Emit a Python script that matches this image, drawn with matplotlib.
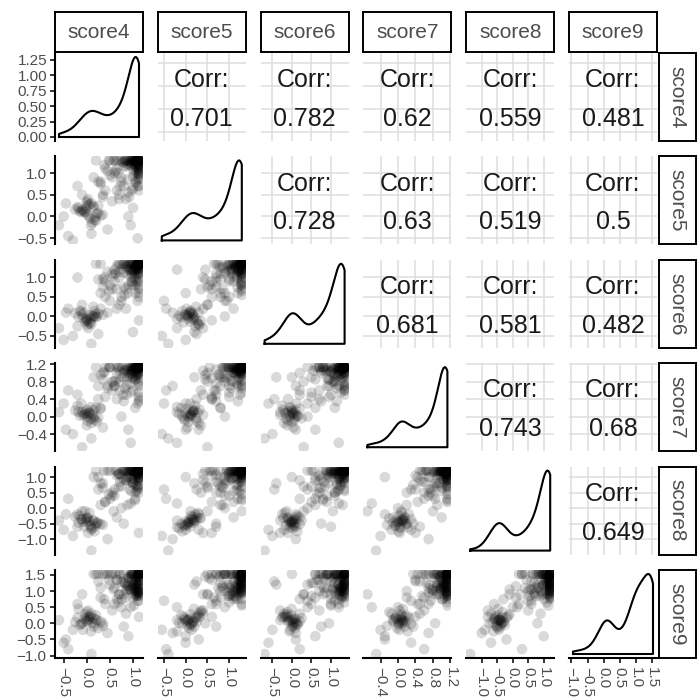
import matplotlib.pyplot as plt
from matplotlib.ticker import MultipleLocator, FormatStrFormatter
import numpy as np

plt.rcParams['font.family'] = ['Liberation Sans', 'DejaVu Sans']

names = ['score4', 'score5', 'score6', 'score7', 'score8', 'score9']

# observations in blocks: high (40), low (30), spread (30), upper-mid (40), ceiling (30)
s4 = [1.13, 1.10, 1.05, 0.98, 1.13, 1.08, 0.95, 1.02, 1.12, 0.88,
      1.06, 1.13, 0.92, 1.00, 1.10, 0.85, 1.04, 1.13, 0.97, 1.09,
      0.80, 1.11, 1.03, 0.93, 1.13, 0.76, 1.07, 0.99, 1.12, 0.70,
      1.01, 1.13, 0.90, 1.06, 0.83, 1.10, 0.96, 0.65, 1.08, 1.13,
      0.00, -0.10, 0.08, 0.15, -0.05, 0.02, 0.20, -0.15, 0.10, 0.05,
      -0.02, 0.25, -0.20, 0.12, 0.00, 0.30, -0.08, 0.06, 0.18, -0.12,
      0.03, 0.22, -0.25, 0.09, 0.14, -0.04, 0.35, 0.01, 0.17, -0.18,
      -0.60, -0.45, -0.30, 0.40, 0.55, 0.70, 0.30, 0.60, 0.85, 1.10,
      1.00, 0.20, 0.50, -0.20, 0.90, 1.13, 0.10, -0.10, 0.75, 0.45,
      -0.50, 0.35, 1.05, 0.65, -0.40, 0.95, 0.25, 0.80, 1.13, 0.15,
      0.55, 0.85, 1.00, 0.40, 0.75, 1.13, 0.60, 0.90, 0.30, 1.05,
      0.70, 0.95, 0.50, 1.13, 0.80, 0.65, 1.10, 0.45, 0.88, 1.02,
      0.35, 0.78, 1.13, 0.58, 0.92, 1.08, 0.25, 0.82, 1.13, 0.68,
      0.98, 0.48, 1.13, 0.72, 1.04, 0.62, 0.87, 1.13, 0.38, 0.96,
      1.13, 1.13, 1.10, 1.13, 1.05, 1.13, 1.13, 1.08, 1.13, 1.00,
      1.13, 1.13, 1.11, 1.13, 0.98, 1.13, 1.13, 1.06, 1.13, 1.13,
      1.09, 1.13, 1.13, 1.02, 1.13, 1.13, 1.12, 1.13, 1.13, 1.07]
s5 = [1.29, 1.22, 1.15, 1.29, 1.05, 1.25, 1.18, 1.29, 0.98, 1.20,
      1.29, 1.10, 1.26, 0.92, 1.29, 1.15, 1.22, 1.08, 1.29, 0.85,
      1.24, 1.29, 1.00, 1.18, 1.12, 1.29, 0.78, 1.27, 1.20, 1.29,
      1.06, 0.95, 1.29, 1.16, 1.29, 0.70, 1.23, 1.29, 1.02, 1.19,
      0.05, 0.15, -0.05, 0.20, 0.10, 0.25, -0.10, 0.12, 0.30, 0.00,
      0.18, 0.08, 0.22, -0.15, 0.35, 0.02, 0.14, 0.28, -0.02, 0.10,
      0.40, 0.06, 0.16, -0.20, 0.24, 0.11, 0.04, 0.32, -0.08, 0.19,
      -0.20, 0.30, -0.55, 0.60, 0.35, 0.50, 0.80, 1.00, 0.40, -0.50,
      0.20, 1.29, 1.29, 0.70, 0.00, 0.60, -0.40, 0.50, 0.90, -0.30,
      0.00, 0.45, 0.80, 1.10, -0.45, -0.20, 0.25, 0.70, 1.00, 0.90,
      0.90, 1.29, 0.65, 1.10, 0.80, 1.00, 1.29, 0.55, 0.75, 1.20,
      0.40, 1.29, 0.95, 0.70, 1.15, 0.60, 1.29, 1.05, 0.85, 1.29,
      0.50, 1.25, 0.90, 1.29, 0.45, 1.10, 0.80, 1.29, 1.20, 1.00,
      0.60, 1.29, 1.15, 0.70, 1.29, 1.05, 1.29, 0.85, 1.18, 1.29,
      1.29, 1.29, 1.29, 1.25, 1.29, 1.29, 1.20, 1.29, 1.29, 1.29,
      1.15, 1.29, 1.29, 1.29, 1.22, 1.29, 1.29, 1.29, 1.08, 1.29,
      1.29, 1.29, 1.18, 1.29, 1.29, 1.29, 1.29, 1.24, 1.29, 1.29]
s6 = [1.35, 1.20, 1.28, 1.10, 1.22, 1.35, 1.05, 1.18, 1.30, 1.25,
      0.95, 1.22, 1.35, 1.15, 1.08, 1.28, 1.20, 1.35, 0.88, 1.24,
      1.12, 1.30, 1.18, 1.35, 1.00, 1.22, 1.26, 0.82, 1.35, 1.14,
      1.20, 1.32, 1.06, 1.25, 1.35, 0.90, 1.17, 1.28, 1.35, 0.75,
      -0.05, 0.05, -0.15, 0.00, 0.10, -0.10, -0.02, 0.15, -0.20, 0.03,
      -0.08, 0.08, -0.25, 0.02, -0.12, 0.20, -0.04, -0.18, 0.06, 0.12,
      -0.30, 0.00, 0.09, -0.06, 0.25, -0.14, 0.04, -0.22, 0.14, -0.01,
      -0.30, 0.10, -0.50, 0.50, 0.70, 0.30, 0.60, 0.90, 0.20, 0.40,
      -0.40, 1.35, 0.80, 1.00, 0.60, -0.10, -0.70, 0.30, 0.40, 0.10,
      -0.60, 0.95, 1.10, 0.20, 0.20, 1.20, -0.45, 0.75, 0.50, 0.00,
      1.10, 0.70, 1.35, 0.90, 0.50, 0.95, 1.20, 0.80, 1.35, 0.60,
      1.00, 1.25, 0.40, 1.10, 1.35, 0.70, 0.85, 1.15, 1.30, 1.00,
      0.75, 1.35, 0.60, 1.05, 1.20, 1.35, 0.95, 0.55, 1.15, 1.35,
      0.90, 0.65, 1.25, 1.35, 0.80, 1.10, 1.35, 0.70, 1.00, 1.35,
      1.35, 1.30, 1.35, 1.35, 1.28, 1.35, 1.35, 1.22, 1.35, 1.35,
      1.35, 1.18, 1.35, 1.35, 1.35, 1.35, 1.10, 1.35, 1.35, 1.35,
      1.30, 1.35, 1.35, 1.35, 1.25, 1.35, 1.35, 1.35, 1.35, 1.33]
s7 = [1.13, 1.05, 1.10, 0.98, 1.13, 1.02, 1.08, 0.92, 1.13, 1.06,
      0.85, 1.11, 1.00, 1.13, 0.95, 1.07, 1.13, 0.80, 1.04, 1.12,
      0.90, 1.13, 1.09, 0.75, 1.01, 1.13, 0.96, 1.06, 0.70, 1.13,
      1.03, 0.88, 1.10, 1.13, 0.65, 1.08, 0.99, 1.13, 0.93, 1.05,
      0.00, 0.10, -0.05, 0.15, 0.05, -0.10, 0.20, 0.02, -0.15, 0.08,
      0.12, -0.02, 0.25, 0.06, -0.20, 0.18, 0.03, 0.09, -0.08, 0.30,
      0.04, -0.12, 0.14, 0.22, -0.04, 0.07, -0.25, 0.16, 0.01, 0.11,
      0.10, -0.30, -0.40, 0.45, 0.60, 0.80, 0.20, 0.70, 0.50, 0.30,
      0.90, 1.13, 1.13, 0.50, -0.30, 0.40, -0.50, -0.70, 0.00, 0.70,
      0.30, 0.85, 0.20, 1.00, 0.60, -0.60, 0.40, 0.35, 0.55, 0.90,
      0.80, 1.13, 0.60, 1.13, 0.90, 0.45, 0.70, 1.13, 0.95, 0.85,
      1.05, 0.55, 1.13, 0.75, 1.00, 0.40, 1.13, 0.65, 0.90, 1.13,
      1.00, 0.50, 1.13, 0.80, 0.95, 1.13, 0.70, 1.05, 0.35, 1.13,
      0.88, 1.13, 0.98, 0.60, 1.13, 0.82, 0.72, 1.13, 1.02, 1.13,
      1.13, 1.13, 1.10, 1.13, 1.13, 1.08, 1.13, 1.13, 1.13, 1.05,
      1.13, 1.13, 0.98, 1.13, 1.13, 1.13, 1.13, 1.13, 1.13, 1.02,
      1.13, 1.13, 1.13, 1.13, 1.13, 1.10, 1.13, 1.13, 1.13, 1.13]
s8 = [1.21, 1.12, 1.05, 1.21, 0.95, 1.18, 1.21, 1.08, 0.88, 1.21,
      1.15, 1.00, 1.21, 0.80, 1.10, 1.21, 0.92, 1.17, 1.21, 0.70,
      1.21, 1.06, 1.14, 0.60, 1.21, 1.02, 1.19, 0.85, 1.21, 1.10,
      0.96, 1.21, 1.13, 0.75, 1.21, 1.08, 0.55, 1.21, 1.16, 0.98,
      -0.45, -0.35, -0.55, -0.40, -0.60, -0.30, -0.50, -0.25, -0.70, -0.42,
      -0.38, -0.48, -0.20, -0.65, -0.33, -0.52, -0.44, -0.15, -0.58, -0.36,
      -0.80, -0.46, -0.28, -0.62, -0.40, -0.10, -0.54, -0.32, -0.75, -0.47,
      -0.40, -0.20, -0.90, 0.20, 0.50, 0.70, 0.10, 0.40, 0.90, 0.60,
      0.80, 1.21, 0.30, -0.60, 1.00, -0.80, -1.37, -0.10, 0.00, -1.00,
      -0.70, 0.80, 0.50, -0.30, 0.30, 0.15, 0.60, -0.50, 1.21, 1.00,
      0.40, 0.90, 1.21, 0.20, 0.70, 1.00, 0.60, 1.21, 0.80, 0.30,
      1.10, 0.85, 1.21, 0.50, 0.95, 1.05, 0.70, 1.21, 0.10, 1.15,
      0.65, 1.21, 0.90, -0.10, 1.21, 0.55, 1.00, 1.21, 0.75, 1.10,
      1.21, 0.45, 1.21, 0.85, 0.25, 1.21, 1.00, 0.65, 1.21, 0.95,
      1.21, 1.21, 1.21, 1.18, 1.21, 1.21, 1.12, 1.21, 1.05, 1.21,
      1.21, 1.21, 1.21, 0.98, 1.21, 1.21, 1.21, 1.15, 1.21, 1.21,
      1.21, 1.08, 1.21, 1.21, 1.21, 1.21, 1.21, 1.14, 1.21, 1.21]
s9 = [1.53, 1.20, 1.00, 1.45, 0.90, 1.30, 1.10, 1.53, 0.85, 1.05,
      1.40, 0.95, 1.15, 1.53, 1.25, 0.80, 1.35, 1.00, 1.50, 1.10,
      0.90, 1.53, 1.20, 1.05, 1.30, 0.75, 1.45, 1.10, 0.95, 1.53,
      1.15, 1.00, 1.40, 0.85, 1.25, 1.53, 1.05, 1.35, 0.90, 1.20,
      0.10, 0.00, 0.20, -0.10, 0.15, 0.05, 0.25, -0.05, 0.30, 0.12,
      0.08, -0.15, 0.18, 0.02, 0.35, 0.06, -0.20, 0.22, 0.14, -0.02,
      0.40, 0.10, 0.04, -0.25, 0.16, 0.28, -0.08, 0.20, 0.00, 0.45,
      0.10, -0.50, -0.20, 0.60, 0.40, 0.90, 0.80, 1.10, 0.30, 0.70,
      1.20, 1.53, 1.53, 0.60, -0.40, 0.20, -0.95, 0.90, 0.50, -0.30,
      -0.60, 0.00, 1.00, 0.75, -0.80, 0.50, 1.30, -0.10, 0.85, 1.53,
      1.53, 1.00, 0.80, 1.53, 1.25, 1.53, 0.60, 1.40, 1.10, 1.53,
      0.90, 1.53, 1.20, 0.70, 1.53, 1.35, 0.95, 1.53, 1.15, 0.55,
      1.53, 1.30, 1.53, 1.05, 1.45, 0.85, 1.53, 1.25, 1.53, 0.65,
      1.53, 1.35, 1.10, 1.53, 0.90, 1.53, 1.20, 1.53, 0.75, 1.53,
      1.53, 1.45, 1.20, 1.53, 1.10, 1.40, 1.53, 1.00, 1.30, 1.53,
      1.15, 1.50, 1.05, 1.53, 1.35, 0.95, 1.53, 1.25, 1.45, 1.53,
      1.10, 1.40, 1.53, 1.20, 1.00, 1.53, 1.30, 1.45, 1.53, 1.15]

corr_labels = [
    ['0.701', '0.782', '0.62', '0.559', '0.481'],
    ['0.728', '0.63', '0.519', '0.5'],
    ['0.681', '0.581', '0.482'],
    ['0.743', '0.68'],
    ['0.649'],
]

axis_ticks = [
    [-0.5, 0.0, 0.5, 1.0],
    [-0.5, 0.0, 0.5, 1.0],
    [-0.5, 0.0, 0.5, 1.0],
    [-0.4, 0.0, 0.4, 0.8, 1.2],
    [-1.0, -0.5, 0.0, 0.5, 1.0],
    [-1.0, -0.5, 0.0, 0.5, 1.0, 1.5],
]

scores = [np.array(v) for v in (s4, s5, s6, s7, s8, s9)]

W, H = 697, 700
fig = plt.figure(figsize=(W / 100, H / 100), dpi=100)


def box(x, y, w, h):
    return [x / W, 1 - (y + h) / H, w / W, h / H]


def lims(v):
    lo, hi = v.min(), v.max()
    pad = 0.05 * (hi - lo)
    return lo - pad, hi + pad


def kde(v):
    n = len(v)
    sd = v.std(ddof=1)
    iqr = np.subtract(*np.percentile(v, [75, 25]))
    bw = 0.9 * min(sd, iqr / 1.34) * n ** -0.2
    xs = np.linspace(v.min(), v.max(), 512)
    d = np.exp(-0.5 * ((xs[:, None] - v[None, :]) / bw) ** 2).sum(1) / (n * bw * np.sqrt(2 * np.pi))
    return xs, d


def fmt(t):
    return f"{t:.1f}".replace('-', '\u2212')


col_x = [55 + 102.8 * j for j in range(6)]
row_y = [53 + 103.4 * i for i in range(6)]
size = 88
label_color = '#4d4d4d'

for i in range(6):
    for j in range(6):
        ax = fig.add_axes(box(col_x[j], row_y[i], size, size))
        for sp in ax.spines.values():
            sp.set_visible(False)
        ax.set_xlim(lims(scores[j]))
        ax.tick_params(left=False, bottom=False, labelleft=False, labelbottom=False)

        if i == j:
            xs, d = kde(scores[j])
            ax.plot(np.r_[xs[0], xs, xs[-1], xs[0]], np.r_[0, d, 0, 0],
                    color='black', lw=1.5, solid_joinstyle='round')
            ax.set_ylim(-0.05 * d.max(), 1.05 * d.max())
        elif i > j:
            ax.set_ylim(lims(scores[i]))
            ax.scatter(scores[j], scores[i], s=58, color='black', alpha=0.15,
                       edgecolors='none')
        else:
            ax.set_ylim(lims(scores[i]))
            ax.set_xticks(axis_ticks[j])
            ax.set_yticks(axis_ticks[i])
            ax.grid(True, color='#dedede', lw=1.1)
            ax.set_axisbelow(True)
            ax.text(0.5, 0.69, 'Corr:', transform=ax.transAxes, ha='center',
                    va='center', fontsize=18, color='#1a1a1a')
            ax.text(0.5, 0.25, corr_labels[i][j - i - 1], transform=ax.transAxes,
                    ha='center', va='center', fontsize=18, color='#1a1a1a')

        if j == 0:
            ax.spines['left'].set_visible(True)
            ax.spines['left'].set_linewidth(1.5)
            ax.tick_params(left=True, labelleft=True, length=3.5, width=1.1,
                           labelsize=11, labelcolor=label_color, pad=2)
            if i == 0:
                ax.yaxis.set_major_locator(MultipleLocator(0.25))
                ax.yaxis.set_major_formatter(FormatStrFormatter('%.2f'))
            else:
                ax.set_yticks(axis_ticks[i])
                ax.set_yticklabels([fmt(t) for t in axis_ticks[i]])
        if i == 5:
            ax.spines['bottom'].set_visible(True)
            ax.spines['bottom'].set_linewidth(1.5)
            ax.set_xticks(axis_ticks[j])
            ax.set_xticklabels([fmt(t) for t in axis_ticks[j]], rotation=-90)
            ax.tick_params(bottom=True, labelbottom=True, length=3.5, width=1.1,
                           labelsize=11, labelcolor=label_color, pad=3)

# column strips on top
for j in range(6):
    st = fig.add_axes(box(col_x[j], 12, size, 40))
    st.set_xticks([])
    st.set_yticks([])
    for sp in st.spines.values():
        sp.set_linewidth(1.4)
    st.text(0.5, 0.48, names[j], ha='center', va='center', fontsize=15,
            color=label_color, transform=st.transAxes)

# row strips on the right
for i in range(6):
    st = fig.add_axes(box(658.5, row_y[i], 37.5, size))
    st.set_xticks([])
    st.set_yticks([])
    for sp in st.spines.values():
        sp.set_linewidth(1.4)
    st.text(0.5, 0.5, names[i], ha='center', va='center', fontsize=15,
            rotation=-90, color=label_color, transform=st.transAxes)

fig.savefig('out.png', dpi=100)
